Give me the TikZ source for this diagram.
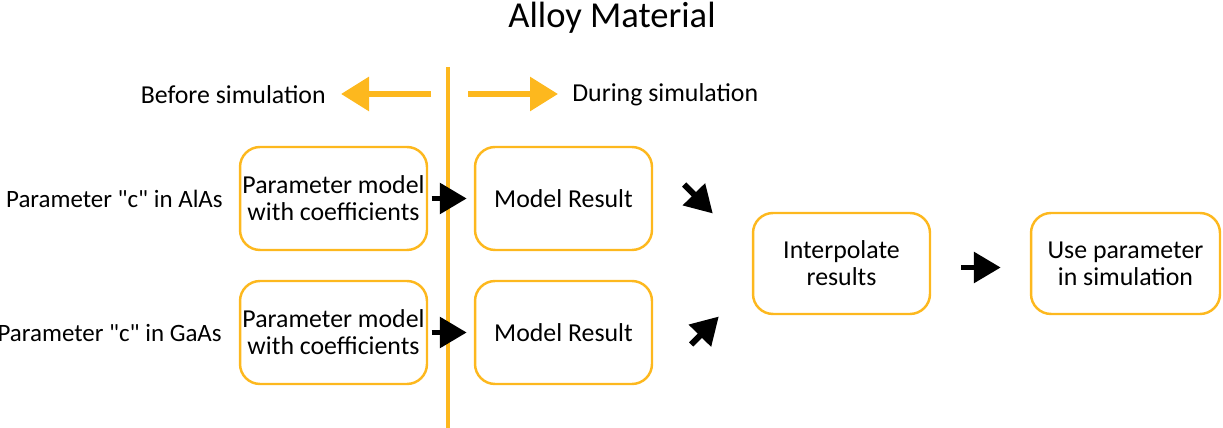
\documentclass[tikz,border=0pt]{standalone}
\usepackage{fontspec}
\setmainfont{Carlito}[Ligatures=TeXOff]
\usetikzlibrary{arrows.meta}
\definecolor{alloyorange}{RGB}{253,184,30}
\begin{document}
\begin{tikzpicture}[x=0.02cm, y=-0.02cm, font=\fontsize{14.7}{15.3}\selectfont,
    box/.style={draw=alloyorange, line width=1.4pt, rounded corners=0.4cm, align=center, inner sep=0pt},
    blk/.style={-{Triangle[length=0.54cm,width=0.6cm]}, line width=3.4pt, black},
    org/.style={-{Triangle[length=0.56cm,width=0.66cm]}, line width=3.4pt, alloyorange},
    lab/.style={anchor=east, inner sep=0pt, font=\fontsize{14.2}{15}\selectfont}]
  \useasboundingbox (0,0) rectangle (1223,428);
  \node[anchor=base] (title) at (612,28) {\fontsize{20.8}{24}\selectfont Alloy Material};
  % divider between the two phases
  \coordinate (top) at (448,67);
  \coordinate (bot) at (448,428);
  \draw[alloyorange, line width=2.3pt] (top) -- (bot);
  \draw[org] ([shift={(-17,27)}]top) -- ([shift={(-107,27)}]top);
  \draw[org] ([shift={(20,27)}]top) -- ([shift={(110,27)}]top);
  \node[anchor=east, inner sep=0pt] (before) at (326,95) {Before simulation};
  \node[anchor=west, inner sep=0pt] (during) at (572,95) {During simulation};
  % boxes
  \node[box, minimum width=3.74cm, minimum height=2.06cm] (pm1) at (333.5,198.5) {Parameter model\\with coefficients};
  \node[box, minimum width=3.74cm, minimum height=2.06cm] (pm2) at (333.5,332.5) {Parameter model\\with coefficients};
  \node[box, minimum width=3.54cm, minimum height=2.06cm] (mr1) at (563.5,198.5) {Model Result};
  \node[box, minimum width=3.54cm, minimum height=2.06cm] (mr2) at (563.5,332.5) {Model Result};
  \node[box, minimum width=3.54cm, minimum height=2.02cm] (ip) at (841.5,263.5) {Interpolate\\results};
  \node[box, minimum width=3.78cm, minimum height=2.02cm] (up) at (1125.5,263.5) {Use parameter\\in simulation};
  \node[lab] (lab1) at (223,199) {Parameter "c" in AlAs};
  \node[lab] (lab2) at (222,333) {Parameter "c" in GaAs};
  % black arrows
  \draw[blk] ([xshift=2]pm1.east) -- ([xshift=-4]mr1.west);
  \draw[blk] ([xshift=2]pm2.east) -- ([xshift=-4]mr2.west);
  \draw[blk] ([shift={(31,-14)}]mr1.east) -- ([shift={(-39,-50)}]ip.west);
  \draw[blk] ([shift={(38,12)}]mr2.east) -- ([shift={(-33,53)}]ip.west);
  \draw[blk] ([shift={(30,4)}]ip.east) -- ([shift={(-29,4)}]up.west);
\end{tikzpicture}
\end{document}
